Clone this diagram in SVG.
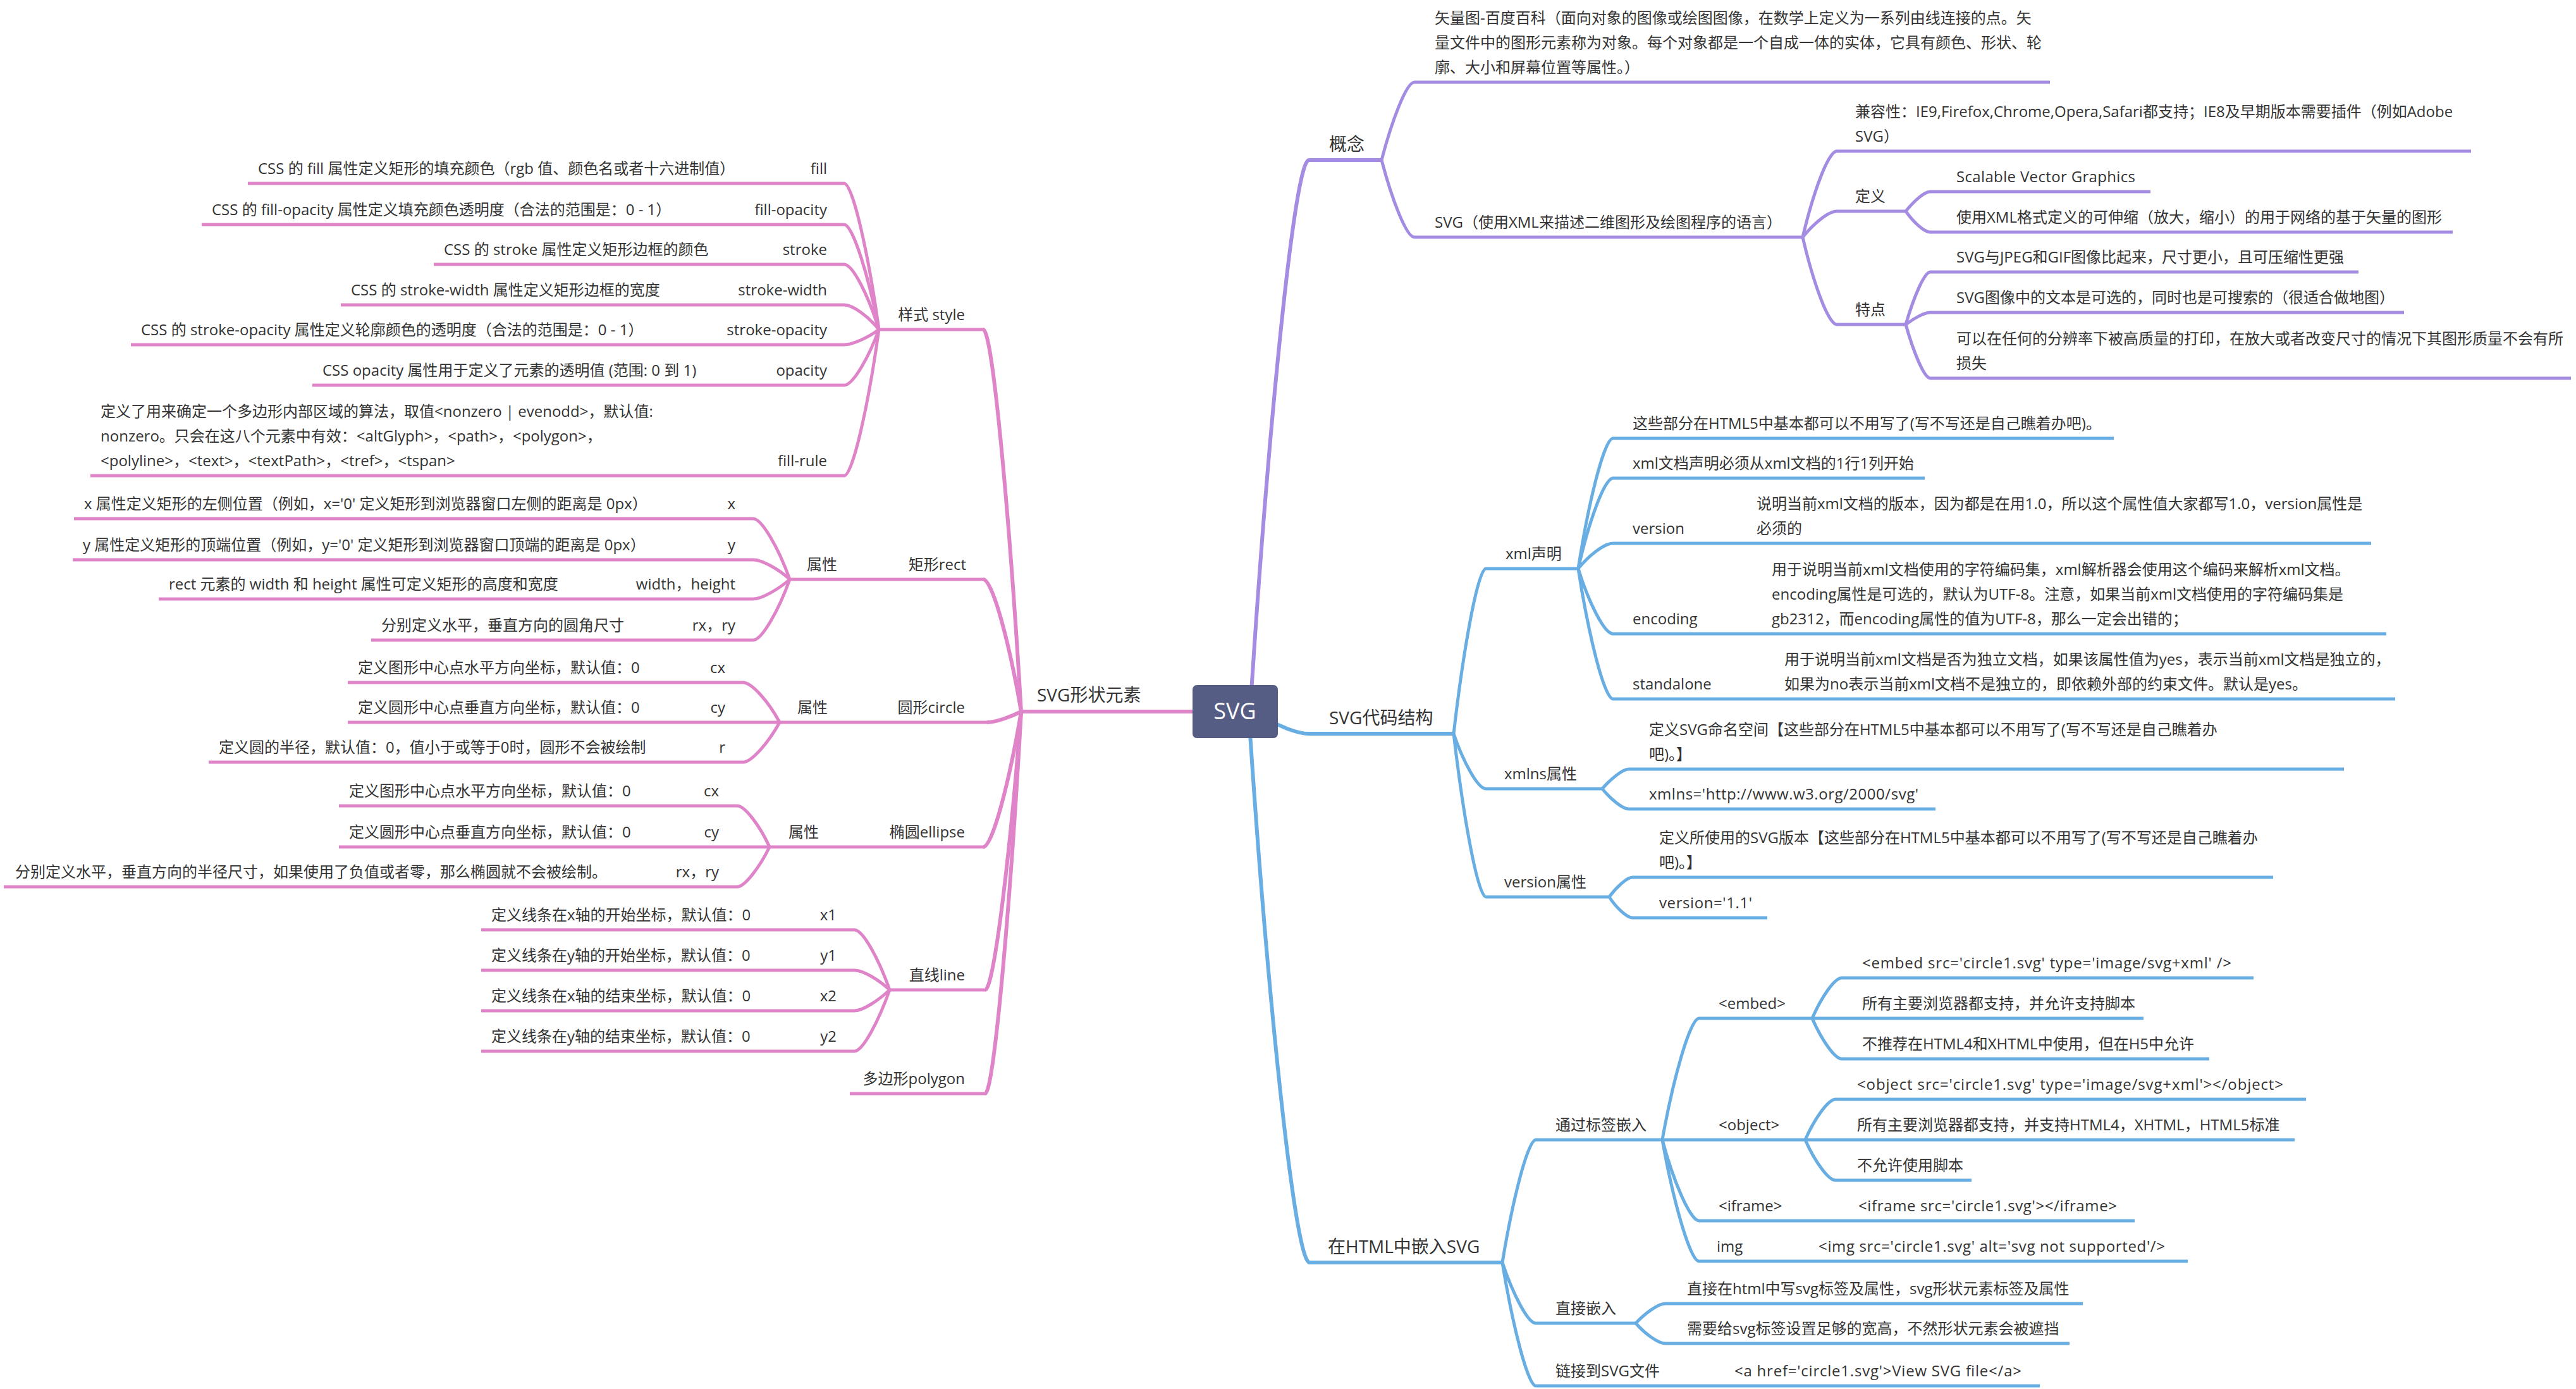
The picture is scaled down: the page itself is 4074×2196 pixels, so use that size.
<svg xmlns="http://www.w3.org/2000/svg" width="4074" height="2196" viewBox="0 0 4074 2196">
<style>
.t{font-family:"Open Sans","Noto Sans CJK SC",sans-serif;font-size:24px;fill:#333}
.t1{font-size:28px}
.e{text-anchor:end}
.ln{fill:none;stroke-width:5;stroke-linecap:butt}
.l1{stroke-width:6}
.p{stroke:#A38CE2}
.b{stroke:#68AEE3}
.k{stroke:#DF84C8}
</style>
<rect width="4074" height="2196" fill="#fff"/>
<g id="connectors">
<path class="ln l1 p" d="M1977 1125C2005 686 2047 253 2070 253"/>
<path class="ln p" d="M2185 253C2201 192 2224 130 2237 130"/>
<path class="ln p" d="M2185 253C2201 314 2224 375 2237 375"/>
<path class="ln p" d="M2851 375C2867 307 2891 239 2905 239"/>
<path class="ln p" d="M2851 375C2867 355 2891 334 2905 334"/>
<path class="ln p" d="M2851 375C2867 444 2891 513 2905 513"/>
<path class="ln p" d="M3014 334C3026 319 3043 303 3053 303"/>
<path class="ln p" d="M3014 334C3026 351 3043 367 3053 367"/>
<path class="ln p" d="M3014 513C3026 472 3043 430 3053 430"/>
<path class="ln p" d="M3014 513C3026 504 3043 494 3053 494"/>
<path class="ln p" d="M3014 513C3026 556 3043 598 3053 598"/>
<path class="ln l1 b" d="M2010 1140C2028 1150 2054 1160 2069 1160"/>
<path class="ln b" d="M2299 1160C2314 1030 2337 899 2350 899"/>
<path class="ln b" d="M2299 1160C2314 1204 2337 1247 2350 1247"/>
<path class="ln b" d="M2299 1160C2314 1289 2337 1418 2350 1418"/>
<path class="ln b" d="M2496 899C2512 796 2537 693 2551 693"/>
<path class="ln b" d="M2496 899C2512 828 2537 756 2551 756"/>
<path class="ln b" d="M2496 899C2512 879 2537 859 2551 859"/>
<path class="ln b" d="M2496 899C2512 951 2537 1002 2551 1002"/>
<path class="ln b" d="M2496 899C2512 1002 2537 1105 2551 1105"/>
<path class="ln b" d="M2534 1247C2547 1232 2566 1216 2576 1216"/>
<path class="ln b" d="M2534 1247C2547 1263 2566 1279 2576 1279"/>
<path class="ln b" d="M2545 1418C2556 1403 2573 1387 2582 1387"/>
<path class="ln b" d="M2545 1418C2556 1435 2573 1451 2582 1451"/>
<path class="ln l1 b" d="M1977 1160C2005 1578 2048 1996 2071 1996"/>
<path class="ln b" d="M2376 1996C2392 1899 2416 1802 2429 1802"/>
<path class="ln b" d="M2376 1996C2392 2044 2416 2092 2429 2092"/>
<path class="ln b" d="M2376 1996C2392 2094 2416 2191 2429 2191"/>
<path class="ln b" d="M2629 1802C2646 1706 2673 1610 2687 1610"/>
<path class="ln b" d="M2629 1802H2687"/>
<path class="ln b" d="M2629 1802C2646 1866 2673 1930 2687 1930"/>
<path class="ln b" d="M2629 1802C2646 1898 2673 1994 2687 1994"/>
<path class="ln b" d="M2866 1610C2880 1578 2901 1546 2913 1546"/>
<path class="ln b" d="M2866 1610H2913"/>
<path class="ln b" d="M2866 1610C2880 1642 2901 1674 2913 1674"/>
<path class="ln b" d="M2855 1802C2869 1770 2891 1738 2903 1738"/>
<path class="ln b" d="M2855 1802H2903"/>
<path class="ln b" d="M2855 1802C2869 1834 2891 1866 2903 1866"/>
<path class="ln b" d="M2587 2092C2601 2077 2622 2061 2634 2061"/>
<path class="ln b" d="M2587 2092C2601 2108 2622 2124 2634 2124"/>
<path class="ln l1 k" d="M1890 1125H1860"/>
<path class="ln l1 k" d="M1615 1125C1597 823 1570 521 1555 521"/>
<path class="ln l1 k" d="M1615 1125C1597 1020 1570 916 1555 916"/>
<path class="ln l1 k" d="M1615 1125C1599 1133 1575 1142 1561 1142"/>
<path class="ln l1 k" d="M1615 1125C1597 1232 1570 1339 1555 1339"/>
<path class="ln l1 k" d="M1615 1125C1598 1345 1572 1565 1558 1565"/>
<path class="ln l1 k" d="M1615 1125C1598 1427 1572 1729 1558 1729"/>
<path class="ln k" d="M1390 521C1374 405 1349 290 1335 290"/>
<path class="ln k" d="M1390 521C1374 438 1349 355 1335 355"/>
<path class="ln k" d="M1390 521C1374 469 1349 418 1335 418"/>
<path class="ln k" d="M1390 521C1374 501 1349 482 1335 482"/>
<path class="ln k" d="M1390 521C1374 533 1349 545 1335 545"/>
<path class="ln k" d="M1390 521C1374 565 1349 609 1335 609"/>
<path class="ln k" d="M1390 521C1374 636 1349 752 1335 752"/>
<path class="ln k" d="M1249 916C1232 868 1205 820 1191 820"/>
<path class="ln k" d="M1249 916C1232 900 1205 885 1191 885"/>
<path class="ln k" d="M1249 916C1232 931 1205 947 1191 947"/>
<path class="ln k" d="M1249 916C1232 964 1205 1012 1191 1012"/>
<path class="ln k" d="M1233 1142C1216 1110 1189 1079 1175 1079"/>
<path class="ln k" d="M1233 1142H1175"/>
<path class="ln k" d="M1233 1142C1216 1173 1189 1205 1175 1205"/>
<path class="ln k" d="M1217 1339C1202 1306 1178 1274 1166 1274"/>
<path class="ln k" d="M1217 1339H1166"/>
<path class="ln k" d="M1217 1339C1202 1370 1178 1402 1166 1402"/>
<path class="ln k" d="M1407 1565C1390 1517 1365 1470 1351 1470"/>
<path class="ln k" d="M1407 1565C1390 1549 1365 1534 1351 1534"/>
<path class="ln k" d="M1407 1565C1390 1581 1365 1598 1351 1598"/>
<path class="ln k" d="M1407 1565C1390 1613 1365 1662 1351 1662"/>
</g>

<g id="root">
<rect x="1886" y="1083" width="135" height="84" rx="7" fill="#565D85"/>
<text x="1953" y="1137" text-anchor="middle" style="font-family:'Open Sans',sans-serif;font-size:36px;fill:#fff">SVG</text>
</g>

<g id="n-gainian"><path class="ln l1 p" d="M2070 253H2185"/><text class="t t1" x="2102" y="238">概念</text></g>
<g id="n-shiliangtu"><path class="ln p" d="M2237 130H3242"/><text class="t" x="2269" y="37">矢量图-百度百科（面向对象的图像或绘图图像，在数学上定义为一系列由线连接的点。矢<tspan x="2269" y="76">量文件中的图形元素称为对象。每个对象都是一个自成一体的实体，它具有颜色、形状、轮</tspan><tspan x="2269" y="115">廓、大小和屏幕位置等属性。）</tspan></text></g>
<g id="n-svgdesc"><path class="ln p" d="M2237 375H2851"/><text class="t" x="2269" y="360">SVG（使用XML来描述二维图形及绘图程序的语言）</text></g>
<g id="n-jianrong"><path class="ln p" d="M2905 239H3908"/><text class="t" x="2934" y="185">兼容性：IE9,Firefox,Chrome,Opera,Safari都支持；IE8及早期版本需要插件（例如Adobe<tspan x="2934" y="224">SVG）</tspan></text></g>
<g id="n-dingyi"><path class="ln p" d="M2905 334H3014"/><text class="t" x="2934" y="319">定义</text></g>
<g id="n-scalable"><path class="ln p" d="M3053 303H3401"/><text class="t" x="3094" y="288" textLength="283" lengthAdjust="spacing">Scalable Vector Graphics</text></g>
<g id="n-xmlformat"><path class="ln p" d="M3053 367H3879"/><text class="t" x="3094" y="352">使用XML格式定义的可伸缩（放大，缩小）的用于网络的基于矢量的图形</text></g>
<g id="n-tedian"><path class="ln p" d="M2905 513H3014"/><text class="t" x="2934" y="498">特点</text></g>
<g id="n-smaller"><path class="ln p" d="M3053 430H3730"/><text class="t" x="3094" y="415">SVG与JPEG和GIF图像比起来，尺寸更小，且可压缩性更强</text></g>
<g id="n-selectable"><path class="ln p" d="M3053 494H3802"/><text class="t" x="3094" y="479">SVG图像中的文本是可选的，同时也是可搜索的（很适合做地图）</text></g>
<g id="n-print"><path class="ln p" d="M3053 598H4066"/><text class="t" x="3094" y="544">可以在任何的分辨率下被高质量的打印，在放大或者改变尺寸的情况下其图形质量不会有所<tspan x="3094" y="583">损失</tspan></text></g>

<g id="n-code"><path class="ln l1 b" d="M2069 1160H2299"/><text class="t t1" x="2102" y="1145">SVG代码结构</text></g>
<g id="n-xmldecl"><path class="ln b" d="M2350 899H2496"/><text class="t" x="2381" y="884">xml声明</text></g>
<g id="n-html5"><path class="ln b" d="M2551 693H3343"/><text class="t" x="2582" y="678">这些部分在HTML5中基本都可以不用写了(写不写还是自己瞧着办吧)。</text></g>
<g id="n-firstline"><path class="ln b" d="M2551 756H3044"/><text class="t" x="2582" y="741">xml文档声明必须从xml文档的1行1列开始</text></g>
<g id="n-version"><path class="ln b" d="M2551 859H2746"/><text class="t" x="2582" y="844">version</text></g>
<g id="n-version-d"><path class="ln b" d="M2746 859H3750"/><text class="t" x="2778" y="805">说明当前xml文档的版本，因为都是在用1.0，所以这个属性值大家都写1.0，version属性是<tspan x="2778" y="844">必须的</tspan></text></g>
<g id="n-encoding"><path class="ln b" d="M2551 1002H2770"/><text class="t" x="2582" y="987">encoding</text></g>
<g id="n-encoding-d"><path class="ln b" d="M2770 1002H3774"/><text class="t" x="2802" y="909">用于说明当前xml文档使用的字符编码集，xml解析器会使用这个编码来解析xml文档。<tspan x="2802" y="948">encoding属性是可选的，默认为UTF-8。注意，如果当前xml文档使用的字符编码集是</tspan><tspan x="2802" y="987">gb2312，而encoding属性的值为UTF-8，那么一定会出错的；</tspan></text></g>
<g id="n-standalone"><path class="ln b" d="M2551 1105H2790"/><text class="t" x="2582" y="1090">standalone</text></g>
<g id="n-standalone-d"><path class="ln b" d="M2790 1105H3788"/><text class="t" x="2822" y="1051">用于说明当前xml文档是否为独立文档，如果该属性值为yes，表示当前xml文档是独立的，<tspan x="2822" y="1090">如果为no表示当前xml文档不是独立的，即依赖外部的约束文件。默认是yes。</tspan></text></g>
<g id="n-xmlns"><path class="ln b" d="M2350 1247H2534"/><text class="t" x="2379" y="1232">xmlns属性</text></g>
<g id="n-xmlns-d"><path class="ln b" d="M2576 1216H3707"/><text class="t" x="2608" y="1162">定义SVG命名空间【这些部分在HTML5中基本都可以不用写了(写不写还是自己瞧着办<tspan x="2608" y="1201">吧)。】</tspan></text></g>
<g id="n-xmlns-v"><path class="ln b" d="M2576 1279H3061"/><text class="t" x="2608" y="1264" textLength="426" lengthAdjust="spacing">xmlns='http://www.w3.org/2000/svg'</text></g>
<g id="n-verattr"><path class="ln b" d="M2350 1418H2545"/><text class="t" x="2379" y="1403">version属性</text></g>
<g id="n-verattr-d"><path class="ln b" d="M2582 1387H3595"/><text class="t" x="2624" y="1333">定义所使用的SVG版本【这些部分在HTML5中基本都可以不用写了(写不写还是自己瞧着办<tspan x="2624" y="1372">吧)。】</tspan></text></g>
<g id="n-verattr-v"><path class="ln b" d="M2582 1451H2795"/><text class="t" x="2624" y="1436" textLength="147" lengthAdjust="spacing">version='1.1'</text></g>

<g id="n-embedhtml"><path class="ln l1 b" d="M2071 1996H2376"/><text class="t t1" x="2100" y="1981">在HTML中嵌入SVG</text></g>
<g id="n-bytag"><path class="ln b" d="M2429 1802H2629"/><text class="t" x="2460" y="1787">通过标签嵌入</text></g>
<g id="n-embed"><path class="ln b" d="M2687 1610H2866"/><text class="t" x="2718" y="1595">&lt;embed&gt;</text></g>
<g id="n-embed-1"><path class="ln b" d="M2913 1546H3564"/><text class="t" x="2945" y="1531" textLength="584" lengthAdjust="spacing">&lt;embed src='circle1.svg' type='image/svg+xml' /&gt;</text></g>
<g id="n-embed-2"><path class="ln b" d="M2913 1610H3390"/><text class="t" x="2945" y="1595">所有主要浏览器都支持，并允许支持脚本</text></g>
<g id="n-embed-3"><path class="ln b" d="M2913 1674H3494"/><text class="t" x="2945" y="1659">不推荐在HTML4和XHTML中使用，但在H5中允许</text></g>
<g id="n-object"><path class="ln b" d="M2687 1802H2855"/><text class="t" x="2718" y="1787">&lt;object&gt;</text></g>
<g id="n-object-1"><path class="ln b" d="M2903 1738H3647"/><text class="t" x="2937" y="1723" textLength="674" lengthAdjust="spacing">&lt;object src='circle1.svg' type='image/svg+xml'&gt;&lt;/object&gt;</text></g>
<g id="n-object-2"><path class="ln b" d="M2903 1802H3629"/><text class="t" x="2937" y="1787">所有主要浏览器都支持，并支持HTML4，XHTML，HTML5标准</text></g>
<g id="n-object-3"><path class="ln b" d="M2903 1866H3118"/><text class="t" x="2937" y="1851">不允许使用脚本</text></g>
<g id="n-iframe"><path class="ln b" d="M2687 1930H2907"/><text class="t" x="2718" y="1915">&lt;iframe&gt;</text></g>
<g id="n-iframe-1"><path class="ln b" d="M2907 1930H3376"/><text class="t" x="2939" y="1915" textLength="409" lengthAdjust="spacing">&lt;iframe src='circle1.svg'&gt;&lt;/iframe&gt;</text></g>
<g id="n-img"><path class="ln b" d="M2687 1994H2844"/><text class="t" x="2715" y="1979">img</text></g>
<g id="n-img-1"><path class="ln b" d="M2844 1994H3460"/><text class="t" x="2876" y="1979" textLength="548" lengthAdjust="spacing">&lt;img src='circle1.svg' alt='svg not supported'/&gt;</text></g>
<g id="n-direct"><path class="ln b" d="M2429 2092H2587"/><text class="t" x="2460" y="2077">直接嵌入</text></g>
<g id="n-direct-1"><path class="ln b" d="M2634 2061H3294"/><text class="t" x="2668" y="2046">直接在html中写svg标签及属性，svg形状元素标签及属性</text></g>
<g id="n-direct-2"><path class="ln b" d="M2634 2124H3273"/><text class="t" x="2668" y="2109">需要给svg标签设置足够的宽高，不然形状元素会被遮挡</text></g>
<g id="n-link"><path class="ln b" d="M2429 2191H2711"/><text class="t" x="2460" y="2176">链接到SVG文件</text></g>
<g id="n-link-1"><path class="ln b" d="M2711 2191H3226"/><text class="t" x="2743" y="2176" textLength="454" lengthAdjust="spacing">&lt;a href='circle1.svg'&gt;View SVG file&lt;/a&gt;</text></g>

<g id="n-shapes"><path class="ln l1 k" d="M1615 1125H1860"/><text class="t t1" x="1640" y="1109">SVG形状元素</text></g>
<g id="n-style"><path class="ln k" d="M1390 521H1555"/><text class="t e" x="1526" y="506">样式 style</text></g>
<g id="n-fill"><path class="ln k" d="M1250 290H1335"/><text class="t e" x="1308" y="275">fill</text></g>
<g id="n-fill-d"><path class="ln k" d="M392 290H1250"/><text class="t" x="408" y="275">CSS 的 fill 属性定义矩形的填充颜色（rgb 值、颜色名或者十六进制值）</text></g>
<g id="n-fillop"><path class="ln k" d="M1158 355H1335"/><text class="t e" x="1308" y="340">fill-opacity</text></g>
<g id="n-fillop-d"><path class="ln k" d="M319 355H1158"/><text class="t" x="335" y="340">CSS 的 fill-opacity 属性定义填充颜色透明度（合法的范围是：0 - 1）</text></g>
<g id="n-stroke"><path class="ln k" d="M1213 418H1335"/><text class="t e" x="1308" y="403">stroke</text></g>
<g id="n-stroke-d"><path class="ln k" d="M686 418H1213"/><text class="t" x="702" y="403">CSS 的 stroke 属性定义矩形边框的颜色</text></g>
<g id="n-strokew"><path class="ln k" d="M1143 482H1335"/><text class="t e" x="1308" y="467">stroke-width</text></g>
<g id="n-strokew-d"><path class="ln k" d="M539 482H1143"/><text class="t" x="555" y="467">CSS 的 stroke-width 属性定义矩形边框的宽度</text></g>
<g id="n-strokeop"><path class="ln k" d="M1123 545H1335"/><text class="t e" x="1308" y="530">stroke-opacity</text></g>
<g id="n-strokeop-d"><path class="ln k" d="M207 545H1123"/><text class="t" x="223" y="530">CSS 的 stroke-opacity 属性定义轮廓颜色的透明度（合法的范围是：0 - 1）</text></g>
<g id="n-opacity"><path class="ln k" d="M1203 609H1335"/><text class="t e" x="1308" y="594">opacity</text></g>
<g id="n-opacity-d"><path class="ln k" d="M494 609H1203"/><text class="t" x="510" y="594">CSS opacity 属性用于定义了元素的透明值 (范围: 0 到 1)</text></g>
<g id="n-fillrule"><path class="ln k" d="M1188 752H1335"/><text class="t e" x="1308" y="737">fill-rule</text></g>
<g id="n-fillrule-d"><path class="ln k" d="M143 752H1188"/><text class="t" x="159" y="659">定义了用来确定一个多边形内部区域的算法，取值&lt;nonzero | evenodd&gt;，默认值:<tspan x="159" y="698">nonzero。只会在这八个元素中有效：&lt;altGlyph&gt;，&lt;path&gt;，&lt;polygon&gt;，</tspan><tspan x="159" y="737">&lt;polyline&gt;，&lt;text&gt;，&lt;textPath&gt;，&lt;tref&gt;，&lt;tspan&gt;</tspan></text></g>

<g id="n-rect"><path class="ln k" d="M1412 916H1555"/><text class="t e" x="1528" y="901">矩形rect</text></g>
<g id="n-rect-attr"><path class="ln k" d="M1249 916H1412"/><text class="t e" x="1324" y="901">属性</text></g>
<g id="n-rect-x"><path class="ln k" d="M1126 820H1191"/><text class="t e" x="1163" y="805">x</text></g>
<g id="n-rect-x-d"><path class="ln k" d="M117 820H1126"/><text class="t" x="133" y="805">x 属性定义矩形的左侧位置（例如，x='0' 定义矩形到浏览器窗口左侧的距离是 0px）</text></g>
<g id="n-rect-y"><path class="ln k" d="M1126 885H1191"/><text class="t e" x="1163" y="870">y</text></g>
<g id="n-rect-y-d"><path class="ln k" d="M115 885H1126"/><text class="t" x="131" y="870">y 属性定义矩形的顶端位置（例如，y='0' 定义矩形到浏览器窗口顶端的距离是 0px）</text></g>
<g id="n-rect-wh"><path class="ln k" d="M978 947H1191"/><text class="t e" x="1163" y="932">width，height</text></g>
<g id="n-rect-wh-d"><path class="ln k" d="M251 947H978"/><text class="t" x="267" y="932">rect 元素的 width 和 height 属性可定义矩形的高度和宽度</text></g>
<g id="n-rect-r"><path class="ln k" d="M1074 1012H1191"/><text class="t e" x="1163" y="997">rx，ry</text></g>
<g id="n-rect-r-d"><path class="ln k" d="M587 1012H1074"/><text class="t" x="603" y="997">分别定义水平，垂直方向的圆角尺寸</text></g>

<g id="n-circle"><path class="ln k" d="M1395 1142H1561"/><text class="t e" x="1526" y="1127">圆形circle</text></g>
<g id="n-circle-attr"><path class="ln k" d="M1233 1142H1395"/><text class="t e" x="1309" y="1127">属性</text></g>
<g id="n-circle-cx"><path class="ln k" d="M1099 1079H1175"/><text class="t e" x="1147" y="1064">cx</text></g>
<g id="n-circle-cx-d"><path class="ln k" d="M550 1079H1099"/><text class="t" x="566" y="1064">定义图形中心点水平方向坐标，默认值：0</text></g>
<g id="n-circle-cy"><path class="ln k" d="M1099 1142H1175"/><text class="t e" x="1147" y="1127">cy</text></g>
<g id="n-circle-cy-d"><path class="ln k" d="M550 1142H1099"/><text class="t" x="566" y="1127">定义圆形中心点垂直方向坐标，默认值：0</text></g>
<g id="n-circle-r"><path class="ln k" d="M1109 1205H1175"/><text class="t e" x="1147" y="1190">r</text></g>
<g id="n-circle-r-d"><path class="ln k" d="M330 1205H1109"/><text class="t" x="346" y="1190">定义圆的半径，默认值：0，值小于或等于0时，圆形不会被绘制</text></g>

<g id="n-ellipse"><path class="ln k" d="M1380 1339H1555"/><text class="t e" x="1526" y="1324">椭圆ellipse</text></g>
<g id="n-ellipse-attr"><path class="ln k" d="M1217 1339H1380"/><text class="t e" x="1295" y="1324">属性</text></g>
<g id="n-ellipse-cx"><path class="ln k" d="M1085 1274H1166"/><text class="t e" x="1137" y="1259">cx</text></g>
<g id="n-ellipse-cx-d"><path class="ln k" d="M536 1274H1085"/><text class="t" x="552" y="1259">定义图形中心点水平方向坐标，默认值：0</text></g>
<g id="n-ellipse-cy"><path class="ln k" d="M1085 1339H1166"/><text class="t e" x="1137" y="1324">cy</text></g>
<g id="n-ellipse-cy-d"><path class="ln k" d="M536 1339H1085"/><text class="t" x="552" y="1324">定义圆形中心点垂直方向坐标，默认值：0</text></g>
<g id="n-ellipse-r"><path class="ln k" d="M1042 1402H1166"/><text class="t e" x="1137" y="1387">rx，ry</text></g>
<g id="n-ellipse-r-d"><path class="ln k" d="M6 1402H1042"/><text class="t" x="24" y="1387">分别定义水平，垂直方向的半径尺寸，如果使用了负值或者零，那么椭圆就不会被绘制。</text></g>

<g id="n-line"><path class="ln k" d="M1407 1565H1558"/><text class="t e" x="1526" y="1550">直线line</text></g>
<g id="n-line-x1"><path class="ln k" d="M1273 1470H1351"/><text class="t e" x="1323" y="1455">x1</text></g>
<g id="n-line-x1-d"><path class="ln k" d="M761 1470H1273"/><text class="t" x="777" y="1455">定义线条在x轴的开始坐标，默认值：0</text></g>
<g id="n-line-y1"><path class="ln k" d="M1273 1534H1351"/><text class="t e" x="1323" y="1519">y1</text></g>
<g id="n-line-y1-d"><path class="ln k" d="M761 1534H1273"/><text class="t" x="777" y="1519">定义线条在y轴的开始坐标，默认值：0</text></g>
<g id="n-line-x2"><path class="ln k" d="M1273 1598H1351"/><text class="t e" x="1323" y="1583">x2</text></g>
<g id="n-line-x2-d"><path class="ln k" d="M761 1598H1273"/><text class="t" x="777" y="1583">定义线条在x轴的结束坐标，默认值：0</text></g>
<g id="n-line-y2"><path class="ln k" d="M1273 1662H1351"/><text class="t e" x="1323" y="1647">y2</text></g>
<g id="n-line-y2-d"><path class="ln k" d="M761 1662H1273"/><text class="t" x="777" y="1647">定义线条在y轴的结束坐标，默认值：0</text></g>

<g id="n-polygon"><path class="ln k" d="M1344 1729H1558"/><text class="t e" x="1526" y="1714">多边形polygon</text></g>
</svg>
